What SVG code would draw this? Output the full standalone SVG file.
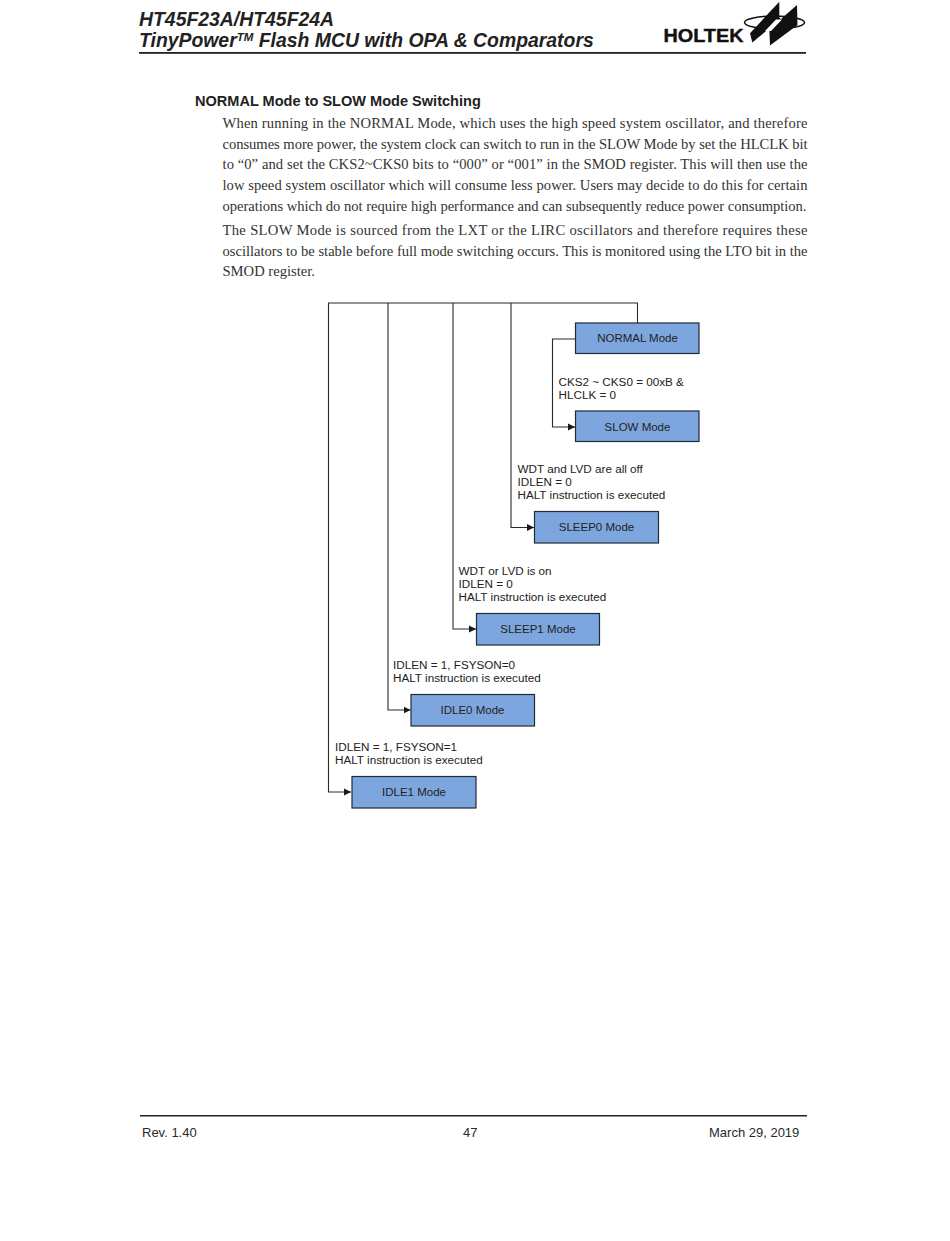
<svg xmlns="http://www.w3.org/2000/svg" width="950" height="1241" viewBox="0 0 950 1241">
<style>
.h{font:italic bold 19.4px "Liberation Sans",Arial,sans-serif;fill:#222}
.b{font:14.6px "Liberation Serif","Times New Roman",serif;fill:#333}
.s{font:bold 14.55px "Liberation Sans",Arial,sans-serif;fill:#222}
.f{font:13px "Liberation Sans",Arial,sans-serif;fill:#2a2a2a}
.l{font:11.7px "Liberation Sans",Arial,sans-serif;fill:#222}
.n{font:11.5px "Liberation Sans",Arial,sans-serif;fill:#222;text-anchor:middle}
.box{fill:#7ea6de;stroke:#1f2a3a;stroke-width:1.2}
.c{fill:none;stroke:#2a2a2a;stroke-width:1.1}
</style>
<defs><marker id="a" markerUnits="userSpaceOnUse" markerWidth="8" markerHeight="8" refX="7" refY="4" orient="auto"><path d="M0 0.5L7 4L0 7.5Z" fill="#1a1a1a"/></marker></defs>
<rect width="950" height="1241" fill="#fff"/>
<g id="header">
<text class="h" x="139" y="26">HT45F23A/HT45F24A</text>
<text class="h" x="139" y="47">TinyPower<tspan font-size="11.500" dy="-6">TM</tspan><tspan dy="6"> Flash MCU with OPA &amp; Comparators</tspan></text>
<rect x="139" y="52" width="667" height="1.8" fill="#222"/>
</g>
<g id="logo">
<text x="663.500" y="42" font-family="Liberation Sans,Arial,sans-serif" font-weight="bold" font-size="17.500" textLength="80" lengthAdjust="spacingAndGlyphs" fill="#111" stroke="#111" stroke-width="0.4">HOLTEK</text>
<ellipse cx="774.500" cy="22.500" rx="30" ry="6.500" fill="none" stroke="#111" stroke-width="1.500"/>
<path d="M750 33.300L779.300 1.700V17L780.700 19.300L797 5L797.500 25L770 45.500L769.300 28.300L752.300 42.500Z" fill="#111"/>
<path d="M765 31L776 19.500H782L771 31Z" fill="#fff"/>
</g>
<text class="s" x="195" y="106">NORMAL Mode to SLOW Mode Switching</text>
<g id="body">
<text class="b" x="222.500" y="128" textLength="585">When running in the NORMAL Mode, which uses the high speed system oscillator, and therefore</text>
<text class="b" x="222.500" y="149" textLength="585">consumes more power, the system clock can switch to run in the SLOW Mode by set the HLCLK bit</text>
<text class="b" x="222.500" y="169" textLength="585">to “0” and set the CKS2~CKS0 bits to “000” or “001” in the SMOD register. This will then use the</text>
<text class="b" x="222.500" y="190" textLength="585">low speed system oscillator which will consume less power. Users may decide to do this for certain</text>
<text class="b" x="222.500" y="211" textLength="584">operations which do not require high performance and can subsequently reduce power consumption.</text>
<text class="b" x="222.500" y="235" textLength="585">The SLOW Mode is sourced from the LXT or the LIRC oscillators and therefore requires these</text>
<text class="b" x="222.500" y="256" textLength="585">oscillators to be stable before full mode switching occurs. This is monitored using the LTO bit in the</text>
<text class="b" x="222.500" y="276">SMOD register.</text>
</g>
<g id="connectors">
<path class="c" d="M637.500 323V303H328.500V792H351" marker-end="url(#a)"/>
<path class="c" d="M388 303V710H410.500" marker-end="url(#a)"/>
<path class="c" d="M453 303V629H476" marker-end="url(#a)"/>
<path class="c" d="M511 303V527.500H534" marker-end="url(#a)"/>
<path class="c" d="M575.500 339H552.500V427H575" marker-end="url(#a)"/>
</g>
<g id="normal"><rect class="box" x="575.500" y="323" width="123.500" height="30.500"/><text class="n" x="637.500" y="342">NORMAL Mode</text></g>
<g id="slow"><rect class="box" x="575.500" y="411" width="123.500" height="30.500"/><text class="n" x="637.500" y="431">SLOW Mode</text></g>
<g id="sleep0"><rect class="box" x="534.500" y="511.500" width="124" height="31.500"/><text class="n" x="596.500" y="531">SLEEP0 Mode</text></g>
<g id="sleep1"><rect class="box" x="476.500" y="613.500" width="123" height="31.500"/><text class="n" x="538" y="633">SLEEP1 Mode</text></g>
<g id="idle0"><rect class="box" x="411" y="694.500" width="123.500" height="31.500"/><text class="n" x="472.500" y="714">IDLE0 Mode</text></g>
<g id="idle1"><rect class="box" x="352" y="776.500" width="124" height="31.500"/><text class="n" x="414" y="796">IDLE1 Mode</text></g>
<g id="labels">
<text class="l" x="558.500" y="386">CKS2 ~ CKS0 = 00xB &amp;</text>
<text class="l" x="558.500" y="399">HLCLK = 0</text>
<text class="l" x="517.500" y="473">WDT and LVD are all off</text>
<text class="l" x="517.500" y="486">IDLEN = 0</text>
<text class="l" x="517.500" y="499">HALT instruction is executed</text>
<text class="l" x="458.500" y="575">WDT or LVD is on</text>
<text class="l" x="458.500" y="588">IDLEN = 0</text>
<text class="l" x="458.500" y="601">HALT instruction is executed</text>
<text class="l" x="393" y="669">IDLEN = 1, FSYSON=0</text>
<text class="l" x="393" y="682">HALT instruction is executed</text>
<text class="l" x="335" y="751">IDLEN = 1, FSYSON=1</text>
<text class="l" x="335" y="764">HALT instruction is executed</text>
</g>
<g id="footer">
<rect x="140" y="1115" width="667" height="1.500" fill="#222"/>
<text class="f" x="142" y="1137">Rev. 1.40</text>
<text class="f" x="463" y="1137">47</text>
<text class="f" x="709" y="1137">March 29, 2019</text>
</g>
</svg>
